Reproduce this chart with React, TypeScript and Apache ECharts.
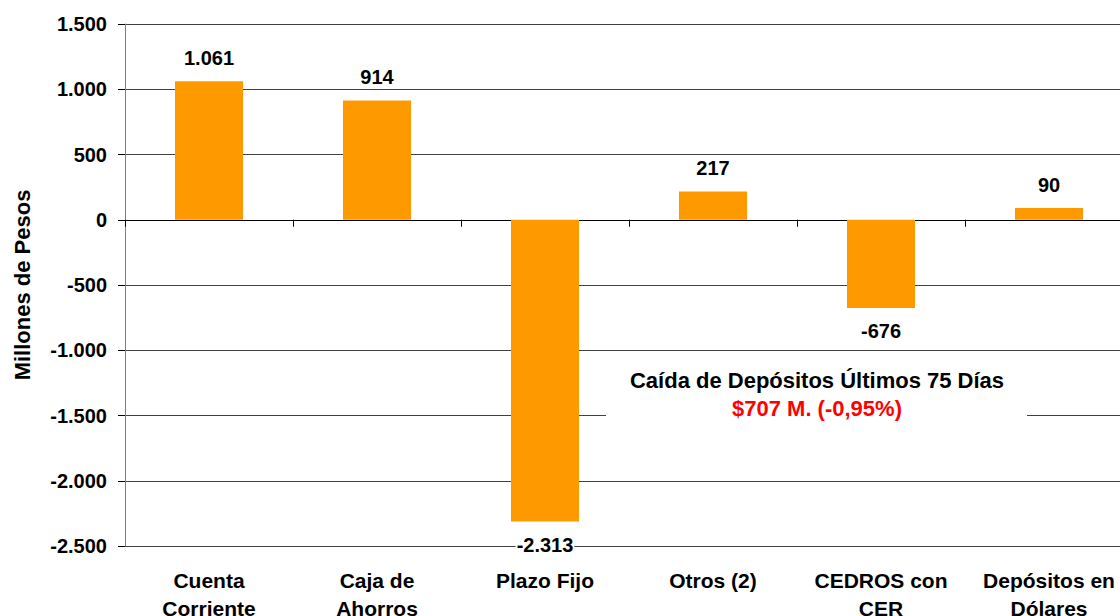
import React, { useEffect, useRef } from "react";
import * as echarts from "echarts";

const categories = [
  "Cuenta\nCorriente",
  "Caja de\nAhorros",
  "Plazo Fijo",
  "Otros (2)",
  "CEDROS con\nCER",
  "Depósitos en\nDólares",
];
const values = [1061, 914, -2313, 217, -676, 90];
const yAxisName = "Millones de Pesos";
const noteTitle = "Caída de Depósitos Últimos 75 Días";
const noteValue = "$707 M. (-0,95%)";

const FONT = "'Liberation Sans', Arial, sans-serif";

function fmt(v: number): string {
  const s = Math.abs(v)
    .toString()
    .replace(/\B(?=(\d{3})+(?!\d))/g, ".");
  return (v < 0 ? "-" : "") + s;
}

export default function App() {
  const ref = useRef<HTMLDivElement>(null);
  useEffect(() => {
    if (!ref.current) return;
    const chart = echarts.init(ref.current, null, { renderer: "svg" });
    chart.setOption({
      animation: false,
      backgroundColor: "#ffffff",
      grid: {
        left: 125,
        top: 24,
        right: 7,
        height: 522,
        containLabel: false,
        outerBoundsMode: "none",
      },
      xAxis: {
        type: "category",
        data: categories,
        axisLine: { onZero: true, lineStyle: { color: "#000", width: 1.2 } },
        axisTick: { show: true, length: 7, lineStyle: { color: "#000" } },
        axisLabel: {
          interval: 0,
          margin: 20,
          color: "#000",
          fontFamily: FONT,
          fontWeight: "bold",
          fontSize: 21,
          lineHeight: 28,
        },
      },
      yAxis: {
        type: "value",
        min: -2500,
        max: 1500,
        interval: 500,
        name: yAxisName,
        nameLocation: "middle",
        nameGap: 92,
        nameRotate: 90,
        nameTextStyle: {
          color: "#000",
          fontFamily: FONT,
          fontWeight: "bold",
          fontSize: 22,
        },
        axisLine: { show: true, lineStyle: { color: "#808080" } },
        axisTick: { show: true, length: 7, lineStyle: { color: "#000" } },
        axisLabel: {
          margin: 18,
          color: "#000",
          fontFamily: FONT,
          fontWeight: "bold",
          fontSize: 20,
          formatter: (v: number) => fmt(v),
        },
        splitLine: { show: true, lineStyle: { color: "#404040", width: 1 } },
      },
      series: [
        {
          type: "bar",
          barWidth: 68,
          itemStyle: { color: "#FF9900" },
          data: values.map((v) => ({
            value: v,
            label: {
              show: true,
              position: v >= 0 ? "top" : "bottom",
              distance: 13,
              formatter: fmt(v),
              color: "#000",
              fontFamily: FONT,
              fontWeight: "bold",
              fontSize: 20,
              backgroundColor: "#fff",
              padding: [0, 1],
            },
          })),
        },
      ],
      graphic: [
        {
          type: "rect",
          shape: { x: 606, y: 360, width: 421, height: 64 },
          style: { fill: "#fff" },
          z: 10,
        },
        {
          type: "text",
          x: 817,
          y: 380,
          z: 11,
          style: {
            text: noteTitle,
            align: "center",
            verticalAlign: "middle",
            fill: "#000",
            font: `bold 22px ${FONT}`,
          },
        },
        {
          type: "text",
          x: 817,
          y: 408,
          z: 11,
          style: {
            text: noteValue,
            align: "center",
            verticalAlign: "middle",
            fill: "#FF0000",
            font: `bold 22px ${FONT}`,
          },
        },
      ],
    });
    return () => chart.dispose();
  }, []);
  return (
    <div
      style={{
        position: "fixed",
        left: 0,
        top: 0,
        width: 1120,
        height: 616,
        overflow: "hidden",
        background: "#fff",
      }}
    >
      <div ref={ref} style={{ width: 1140, height: 616 }} />
    </div>
  );
}
